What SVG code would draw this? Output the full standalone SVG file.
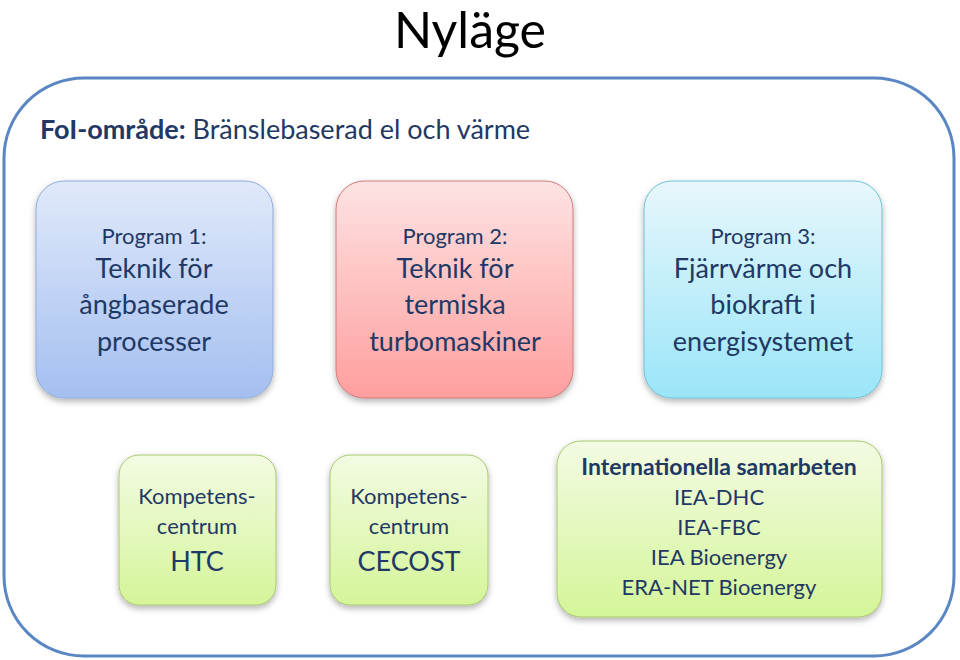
<svg xmlns="http://www.w3.org/2000/svg" width="960" height="660" viewBox="0 0 960 660">
<style>
text{font-family:Lato,"Liberation Sans",sans-serif;fill:#1f3864;text-anchor:middle}
.s{font-size:22px}.m{font-size:27px}.b{font-weight:bold}
</style>
<defs>
<linearGradient id="g1" x1="0" y1="0" x2="0" y2="1"><stop offset="0" stop-color="#e0e9fa"/><stop offset="1" stop-color="#a4bff0"/></linearGradient>
<linearGradient id="g2" x1="0" y1="0" x2="0" y2="1"><stop offset="0" stop-color="#fde3e3"/><stop offset="1" stop-color="#ff9e9e"/></linearGradient>
<linearGradient id="g3" x1="0" y1="0" x2="0" y2="1"><stop offset="0" stop-color="#e8f7fc"/><stop offset="1" stop-color="#9ae5f8"/></linearGradient>
<linearGradient id="g4" x1="0" y1="0" x2="0" y2="1"><stop offset="0" stop-color="#f3fbe3"/><stop offset="1" stop-color="#d4f598"/></linearGradient>
<filter id="sh" x="-10%" y="-10%" width="120%" height="130%"><feDropShadow dx="0" dy="3" stdDeviation="3" flood-color="#000" flood-opacity="0.3"/></filter>
</defs>
<text x="470" y="48" style="font-size:50px;fill:#000">Nyläge</text>
<rect x="4" y="78" width="950" height="578" rx="80" fill="#fff" stroke="#5a86c4" stroke-width="3"/>
<text x="40" y="139" style="font-size:27px;text-anchor:start"><tspan class="b">FoI-område:</tspan> Bränslebaserad el och värme</text>
<g id="p1"><rect x="36" y="181" width="237" height="217" rx="28" fill="url(#g1)" stroke="#8eabdb" filter="url(#sh)"/>
<text x="154" y="244" class="s">Program 1:</text><text x="154" y="278" class="m">Teknik för</text><text x="154" y="314" class="m">ångbaserade</text><text x="154" y="351" class="m">processer</text></g>
<g id="p2"><rect x="336" y="181" width="237" height="217" rx="28" fill="url(#g2)" stroke="#d07a78" filter="url(#sh)"/>
<text x="455" y="244" class="s">Program 2:</text><text x="455" y="278" class="m">Teknik för</text><text x="455" y="314" class="m">termiska</text><text x="455" y="351" class="m">turbomaskiner</text></g>
<g id="p3"><rect x="644" y="181" width="238" height="217" rx="28" fill="url(#g3)" stroke="#6ec0d6" filter="url(#sh)"/>
<text x="763" y="244" class="s">Program 3:</text><text x="763" y="278" class="m">Fjärrvärme och</text><text x="763" y="314" class="m">biokraft i</text><text x="763" y="351" class="m">energisystemet</text></g>
<g id="htc"><rect x="119" y="455" width="157" height="150" rx="20" fill="url(#g4)" stroke="#a9c86e" filter="url(#sh)"/>
<text x="197" y="504" class="s">Kompetens-</text><text x="197" y="534" class="s">centrum</text><text x="197" y="571" class="m">HTC</text></g>
<g id="cecost"><rect x="330" y="455" width="158" height="150" rx="20" fill="url(#g4)" stroke="#a9c86e" filter="url(#sh)"/>
<text x="409" y="504" class="s">Kompetens-</text><text x="409" y="534" class="s">centrum</text><text x="409" y="571" class="m">CECOST</text></g>
<g id="intl"><rect x="557" y="441" width="325" height="176" rx="24" fill="url(#g4)" stroke="#a9c86e" filter="url(#sh)"/>
<text x="719" y="475" class="s b" style="font-size:23px">Internationella samarbeten</text><text x="719" y="505" class="s">IEA-DHC</text><text x="719" y="535" class="s">IEA-FBC</text><text x="719" y="565" class="s">IEA Bioenergy</text><text x="719" y="595" class="s">ERA-NET Bioenergy</text></g>
<g id="connectors"/>
</svg>
